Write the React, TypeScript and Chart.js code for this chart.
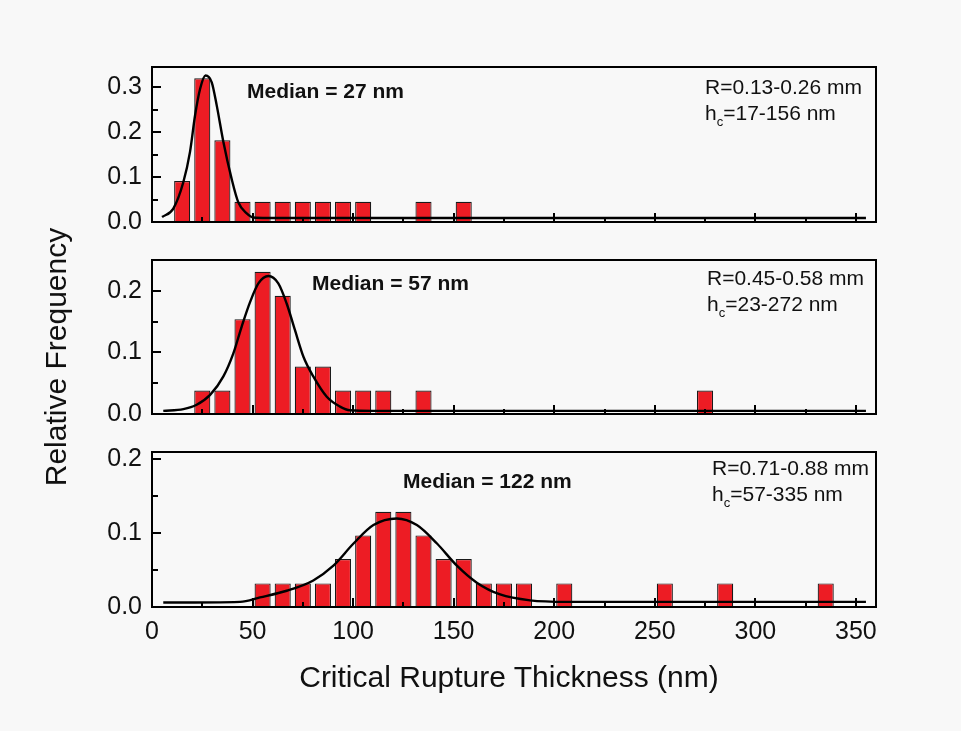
import React, { useEffect, useRef } from "react";
import { Chart, registerables } from "chart.js";

Chart.register(...registerables);

const FONT = '"Liberation Sans", Arial, Helvetica, sans-serif';
const W = 961;
const H = 731;
const PLOT_LEFT = 152;
const PLOT_RIGHT = 876;
const BAR_COLOR = "#ed1c24";

// shared x axis (nm)
const X_MIN = 0;
const X_MAX = 360;
const xMajorTicks = [0, 50, 100, 150, 200, 250, 300, 350];
const xMinorTicks = [25, 75, 125, 175, 225, 275, 325];

// Panel 1: R = 0.13-0.26 mm
const p1Bins = [15, 25, 35, 45, 55, 65, 75, 85, 95, 105, 135, 155];
const p1Freq = [0.091, 0.32, 0.182, 0.045, 0.045, 0.045, 0.045, 0.045, 0.045, 0.045, 0.045, 0.045];
const p1FitX = [5, 10.6, 15.6, 18.9, 21.4, 23.9, 26.6, 29.7, 32.2, 35.5, 39.6, 42.9, 47.1, 50.4, 57, 100, 200, 300, 355];
const p1FitY = [0.011, 0.03, 0.089, 0.156, 0.237, 0.296, 0.326, 0.311, 0.259, 0.178, 0.096, 0.044, 0.019, 0.01, 0.009, 0.009, 0.009, 0.009, 0.009];
const p1YMax = 0.345;
const p1YTicks = [0, 0.1, 0.2, 0.3];
const p1YMinor = [0.05, 0.15, 0.25];

// Panel 2: R = 0.45-0.58 mm
const p2Bins = [25, 35, 45, 55, 65, 75, 85, 95, 105, 115, 135, 275];
const p2Freq = [0.038, 0.038, 0.154, 0.231, 0.192, 0.077, 0.077, 0.038, 0.038, 0.038, 0.038, 0.038];
const p2FitX = [5.6, 15.6, 22.2, 28.9, 35.5, 40.4, 44.6, 48.8, 52.9, 57.9, 62.8, 67, 71.1, 75.3, 80.2, 86.9, 93.5, 98.5, 110, 200, 300, 355];
const p2FitY = [0.005, 0.008, 0.015, 0.031, 0.061, 0.098, 0.142, 0.182, 0.212, 0.224, 0.212, 0.179, 0.136, 0.093, 0.061, 0.028, 0.012, 0.006, 0.005, 0.005, 0.005, 0.005];
const p2YMax = 0.25;
const p2YTicks = [0, 0.1, 0.2];
const p2YMinor = [0.05, 0.15];

// Panel 3: R = 0.71-0.88 mm
const p3Bins = [55, 65, 75, 85, 95, 105, 115, 125, 135, 145, 155, 165, 175, 185, 205, 255, 285, 335];
const p3Freq = [0.032, 0.032, 0.032, 0.032, 0.065, 0.097, 0.129, 0.129, 0.097, 0.065, 0.065, 0.032, 0.032, 0.032, 0.032, 0.032, 0.032, 0.032];
const p3FitX = [5.6, 43.8, 53.7, 67, 80.2, 90.2, 100.2, 110.1, 121.7, 131.7, 141.7, 151.6, 161.5, 173.1, 188, 206.3, 260, 355];
const p3FitY = [0.006, 0.007, 0.013, 0.022, 0.036, 0.056, 0.086, 0.111, 0.12, 0.111, 0.086, 0.056, 0.033, 0.017, 0.009, 0.007, 0.007, 0.007];
const p3YMax = 0.21;
const p3YTicks = [0, 0.1, 0.2];
const p3YMinor = [0.05, 0.15];

const medianLabels = ["Median = 27 nm", "Median = 57 nm", "Median = 122 nm"];
const radiusLabels = ["R=0.13-0.26 mm", "R=0.45-0.58 mm", "R=0.71-0.88 mm"];
const hcLabels = ["=17-156 nm", "=23-272 nm", "=57-335 nm"];

const framePlugin = {
  id: "frameTicks",
  afterDatasetsDraw(chart: any, _args: any, opts: any) {
    const { ctx, chartArea, scales } = chart;
    const { left, right, top, bottom } = chartArea;
    const x = scales.x;
    const y = scales.y;
    ctx.save();
    ctx.strokeStyle = "#000";
    ctx.lineWidth = 2;
    ctx.strokeRect(left, top, right - left, bottom - top);
    ctx.beginPath();
    xMajorTicks.forEach((v) => {
      const px = Math.round(x.getPixelForValue(v));
      ctx.moveTo(px, bottom);
      ctx.lineTo(px, bottom - 9);
    });
    xMinorTicks.forEach((v) => {
      const px = Math.round(x.getPixelForValue(v));
      ctx.moveTo(px, bottom);
      ctx.lineTo(px, bottom - 5);
    });
    (opts.yMajor || []).forEach((v: number) => {
      const py = Math.round(y.getPixelForValue(v));
      ctx.moveTo(left, py);
      ctx.lineTo(left + 9, py);
    });
    (opts.yMinor || []).forEach((v: number) => {
      const py = Math.round(y.getPixelForValue(v));
      ctx.moveTo(left, py);
      ctx.lineTo(left + 6, py);
    });
    ctx.stroke();
    ctx.restore();
  },
};

type PanelProps = {
  bins: number[];
  freq: number[];
  fitX: number[];
  fitY: number[];
  yMax: number;
  yTicks: number[];
  yMinor: number[];
  top: number;
  bottom: number;
  showX: boolean;
};

function Panel(p: PanelProps) {
  const ref = useRef<HTMLCanvasElement>(null);
  useEffect(() => {
    if (!ref.current) return;
    const xAxisH = p.showX ? 40 : 0;
    const chart = new Chart(ref.current, {
      type: "bar",
      data: {
        datasets: [
          {
            type: "line",
            data: p.fitX.map((x, i) => ({ x, y: p.fitY[i] })),
            borderColor: "#000",
            borderWidth: 2.4,
            pointRadius: 0,
            cubicInterpolationMode: "monotone",
            fill: false,
            order: 0,
          } as any,
          {
            type: "bar",
            data: p.bins.map((x, i) => ({ x, y: p.freq[i] })),
            backgroundColor: BAR_COLOR,
            borderColor: "#1a1a1a",
            borderWidth: 1.2,
            barPercentage: 0.8,
            categoryPercentage: 1,
            order: 1,
          } as any,
        ],
      },
      options: {
        responsive: false,
        animation: false,
        events: [],
        layout: {
          padding: {
            left: 0,
            right: W - PLOT_RIGHT,
            top: p.top,
            bottom: H - p.bottom - xAxisH,
          },
        },
        plugins: {
          legend: { display: false },
          tooltip: { enabled: false },
          frameTicks: { yMajor: p.yTicks, yMinor: p.yMinor },
        } as any,
        scales: {
          x: {
            type: "linear",
            min: X_MIN,
            max: X_MAX,
            offset: false,
            display: p.showX,
            grid: { display: false, drawTicks: false },
            border: { display: false },
            afterBuildTicks: (s: any) => {
              s.ticks = xMajorTicks.map((v) => ({ value: v }));
            },
            afterFit: (s: any) => {
              if (p.showX) s.height = xAxisH;
            },
            ticks: {
              autoSkip: false,
              maxRotation: 0,
              padding: 10,
              color: "#111",
              font: { family: FONT, size: 25 },
              callback: (v: any) => String(v),
            },
          } as any,
          y: {
            type: "linear",
            min: 0,
            max: p.yMax,
            grid: { display: false, drawTicks: false },
            border: { display: false },
            afterBuildTicks: (s: any) => {
              s.ticks = p.yTicks.map((v) => ({ value: v }));
            },
            afterFit: (s: any) => {
              s.width = PLOT_LEFT;
            },
            ticks: {
              padding: 10,
              color: "#111",
              font: { family: FONT, size: 25 },
              callback: (v: any) => Number(v).toFixed(1),
            },
          } as any,
        },
      },
      plugins: [framePlugin],
    });
    return () => chart.destroy();
  }, []);
  return (
    <canvas
      ref={ref}
      width={W}
      height={H}
      style={{ position: "absolute", left: 0, top: 0, width: W, height: H }}
    />
  );
}

function Txt(props: {
  x: number;
  cy: number;
  size: number;
  bold?: boolean;
  children: React.ReactNode;
}) {
  return (
    <div
      style={{
        position: "absolute",
        left: props.x,
        top: props.cy - props.size / 2,
        fontFamily: FONT,
        fontSize: props.size,
        lineHeight: `${props.size}px`,
        fontWeight: props.bold ? "bold" : "normal",
        color: "#111",
        whiteSpace: "nowrap",
      }}
    >
      {props.children}
    </div>
  );
}

function Hc(props: { x: number; cy: number; text: string }) {
  return (
    <Txt x={props.x} cy={props.cy} size={21}>
      h
      <span style={{ fontSize: 13, position: "relative", top: 6 }}>c</span>
      {props.text}
    </Txt>
  );
}

export default function App() {
  return (
    <div
      style={{
        position: "fixed",
        left: 0,
        top: 0,
        width: W,
        height: H,
        background: "#f8f8f8",
        overflow: "hidden",
      }}
    >
      <Panel bins={p1Bins} freq={p1Freq} fitX={p1FitX} fitY={p1FitY} yMax={p1YMax} yTicks={p1YTicks} yMinor={p1YMinor} top={67} bottom={222} showX={false} />
      <Panel bins={p2Bins} freq={p2Freq} fitX={p2FitX} fitY={p2FitY} yMax={p2YMax} yTicks={p2YTicks} yMinor={p2YMinor} top={260} bottom={414} showX={false} />
      <Panel bins={p3Bins} freq={p3Freq} fitX={p3FitX} fitY={p3FitY} yMax={p3YMax} yTicks={p3YTicks} yMinor={p3YMinor} top={452} bottom={607} showX={true} />

      <Txt x={247} cy={90} size={21} bold>{medianLabels[0]}</Txt>
      <Txt x={312} cy={282} size={21} bold>{medianLabels[1]}</Txt>
      <Txt x={403} cy={480} size={21} bold>{medianLabels[2]}</Txt>

      <Txt x={705} cy={86} size={21}>{radiusLabels[0]}</Txt>
      <Hc x={705} cy={112} text={hcLabels[0]} />
      <Txt x={707} cy={277} size={21}>{radiusLabels[1]}</Txt>
      <Hc x={707} cy={303} text={hcLabels[1]} />
      <Txt x={712} cy={467} size={21}>{radiusLabels[2]}</Txt>
      <Hc x={712} cy={493} text={hcLabels[2]} />

      <div
        style={{
          position: "absolute",
          left: 509 - 300,
          top: 677 - 15,
          width: 600,
          textAlign: "center",
          fontFamily: FONT,
          fontSize: 30,
          lineHeight: "30px",
          color: "#111",
          whiteSpace: "nowrap",
        }}
      >
        Critical Rupture Thickness (nm)
      </div>
      <div
        style={{
          position: "absolute",
          left: 56 - 200,
          top: 357 - 15,
          width: 400,
          textAlign: "center",
          fontFamily: FONT,
          fontSize: 30,
          lineHeight: "30px",
          color: "#111",
          whiteSpace: "nowrap",
          transform: "rotate(-90deg)",
          transformOrigin: "50% 50%",
        }}
      >
        Relative Frequency
      </div>
    </div>
  );
}
